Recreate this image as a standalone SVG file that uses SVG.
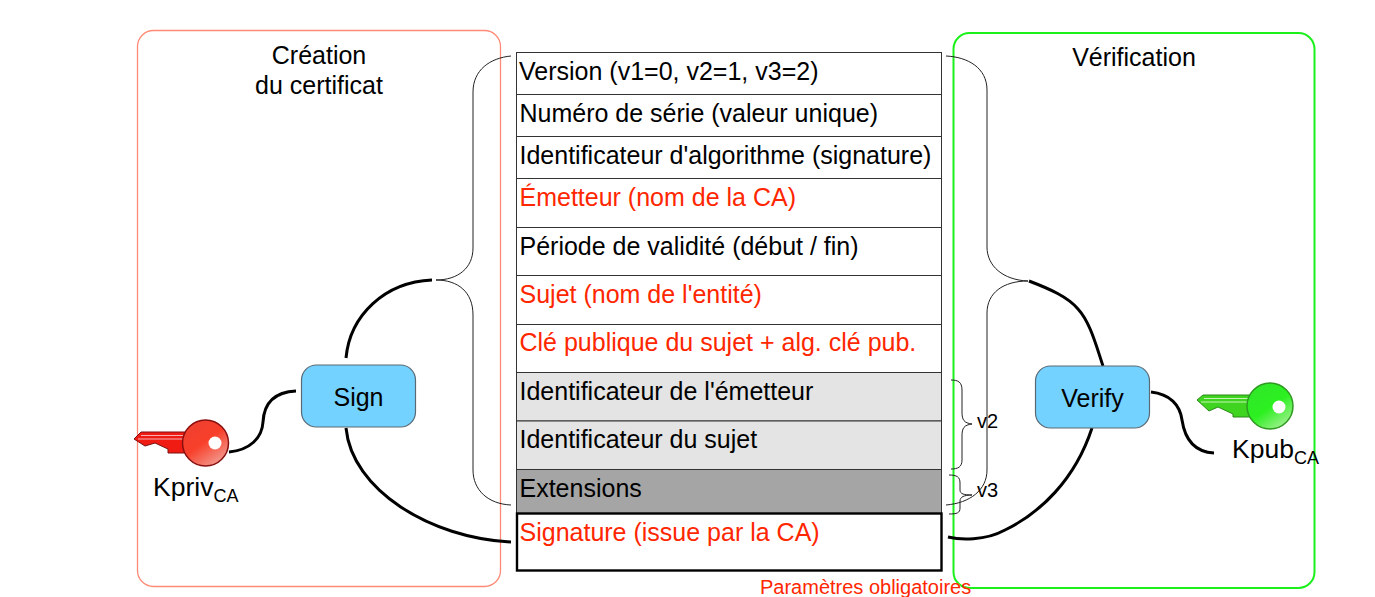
<svg xmlns="http://www.w3.org/2000/svg" width="1375" height="597" viewBox="0 0 1375 597">
<style>
text{font-family:"Liberation Sans",Arial,sans-serif;font-size:25px;fill:#000}
.r{fill:#ff2600}
.key{font-size:26.500px}
.sub{font-size:18px}
.row{stroke:#333;stroke-width:1}
.thin{fill:none;stroke:#222;stroke-width:1}
.thick{fill:none;stroke:#000;stroke-width:3}
.node{fill:#73d2ff;stroke:#5a6a75;stroke-width:1.200}
.hole{fill:#fff}
</style>
<defs>
<linearGradient id="rk" x1="0.2" y1="0.1" x2="0.8" y2="0.95"><stop offset="0" stop-color="#f04030"/><stop offset="0.45" stop-color="#f8402a"/><stop offset="1" stop-color="#f29a90"/></linearGradient>
<linearGradient id="gk" x1="0.2" y1="0.1" x2="0.8" y2="0.95"><stop offset="0" stop-color="#30e828"/><stop offset="0.5" stop-color="#2cf020"/><stop offset="1" stop-color="#a0f090"/></linearGradient>
</defs>
<rect x="137.500" y="30.500" width="363" height="556" rx="16" fill="none" stroke="#ff8a75" stroke-width="1.300"/>
<rect x="953.500" y="33" width="361" height="555" rx="16" fill="none" stroke="#1bf01b" stroke-width="2"/>
<text x="319" y="64" text-anchor="middle">Création</text>
<text x="319" y="94" text-anchor="middle">du certificat</text>
<text x="1134" y="66" text-anchor="middle">Vérification</text>
<g id="certificat">
<rect class="row" x="516.500" y="52.500" width="425" height="42" fill="#fff"/>
<rect class="row" x="516.500" y="94.500" width="425" height="42" fill="#fff"/>
<rect class="row" x="516.500" y="136.500" width="425" height="42" fill="#fff"/>
<rect class="row" x="516.500" y="178.500" width="425" height="49" fill="#fff"/>
<rect class="row" x="516.500" y="227.500" width="425" height="48" fill="#fff"/>
<rect class="row" x="516.500" y="275.500" width="425" height="49" fill="#fff"/>
<rect class="row" x="516.500" y="324.500" width="425" height="48" fill="#fff"/>
<rect class="row" x="516.500" y="372.500" width="425" height="48.500" fill="#e4e4e4"/>
<rect class="row" x="516.500" y="421" width="425" height="48.500" fill="#e4e4e4"/>
<rect class="row" x="516.500" y="469.500" width="425" height="44" fill="#a5a5a5"/>
<rect x="517" y="513.500" width="424.500" height="57" fill="#fff" stroke="#000" stroke-width="2.400"/>
<text x="519" y="80">Version (v1=0, v2=1, v3=2)</text>
<text x="519.500" y="122">Numéro de série (valeur unique)</text>
<text x="519.500" y="164">Identificateur d'algorithme (signature)</text>
<text class="r" x="519.500" y="206">Émetteur (nom de la CA)</text>
<text x="519.500" y="255">Période de validité (début / fin)</text>
<text class="r" x="519.500" y="303">Sujet (nom de l'entité)</text>
<text class="r" x="519.500" y="351">Clé publique du sujet + alg. clé pub.</text>
<text x="519.500" y="400">Identificateur de l'émetteur</text>
<text x="519.500" y="448">Identificateur du sujet</text>
<text x="519.500" y="497">Extensions</text>
<text class="r" x="519.500" y="541">Signature (issue par la CA)</text>
</g>
<text class="r" x="760" y="594" style="font-size:20px">Paramètres obligatoires</text>
<g id="connecteurs">
<path class="thin" d="M511 56C490 58 473 70 473 92V248C473 268 458 280 436 280C458 280 473 292 473 315V470C473 490 488 504 511 505"/>
<path class="thin" d="M946 56C968 57 987 68 987 90V247C987 266 1003 280 1028 281C1003 281 987 293 987 313V470C987 490 970 503 946 505"/>
<path class="thin" d="M951 380C958 380 962 382 962 390V412C962 420 964 423 972 424C964 425 962 428 962 436V460C962 467 958 469 951 469"/>
<path class="thin" d="M949 475C957 475 960 477 960 483V490C960 494 964 495 972 495C964 495 960 497 960 501V508C960 513 957 514 949 514"/>
<path class="thick" d="M346 358C350 315 385 282 432 280"/>
<path class="thick" d="M346 428C352 490 430 538 511 542"/>
<path class="thick" d="M1029 281C1050 289 1068 297 1078 309C1090 322 1096 345 1103 366"/>
<path class="thick" d="M1092 428C1075 480 1040 513 1005 530C985 541 960 540 948 537"/>
<path class="thick" d="M229 452C250 450 262 438 263 422C264 403 275 392 296 391"/>
<path class="thick" d="M1151 392C1170 394 1180 405 1182 420C1185 440 1195 452 1214 453"/>
</g>
<g id="sign"><rect class="node" x="301.500" y="365" width="114" height="62" rx="15"/><text x="358.500" y="406" text-anchor="middle">Sign</text></g>
<g id="verify"><rect class="node" x="1035.500" y="366" width="114" height="62" rx="15"/><text x="1092.500" y="407" text-anchor="middle">Verify</text></g>
<g id="kpriv">
<path d="M134 439L141 432H186V453H168V449L155 443L145 446Z" fill="#f01c14" stroke="#7a1010" stroke-width="1"/>
<path d="M141 435.500H186M138 439H186" stroke="#f5b0b0" stroke-width="1.200"/>
<circle cx="205.500" cy="443" r="23" fill="url(#rk)" stroke="#8a1010" stroke-width="1.500"/>
<circle class="hole" cx="215" cy="443" r="6.500"/>
<text class="key" x="153" y="496">Kpriv<tspan dy="6" class="sub">CA</tspan></text>
</g>
<g id="kpub">
<path d="M1197 400L1203 395H1250V417H1233V414L1218 407L1209 411Z" fill="#3fd41f" stroke="#2a8a1a" stroke-width="1"/>
<path d="M1204 398.500H1250M1201 402H1250" stroke="#c5f5b5" stroke-width="1.200"/>
<circle cx="1270" cy="406" r="23" fill="url(#gk)" stroke="#2f9a22" stroke-width="1.500"/>
<circle class="hole" cx="1279" cy="407" r="6.500"/>
<text class="key" x="1232" y="458">Kpub<tspan dy="6" class="sub">CA</tspan></text>
</g>
<text x="977" y="428" style="font-size:20px">v2</text>
<text x="977" y="497" style="font-size:20px">v3</text>
</svg>
